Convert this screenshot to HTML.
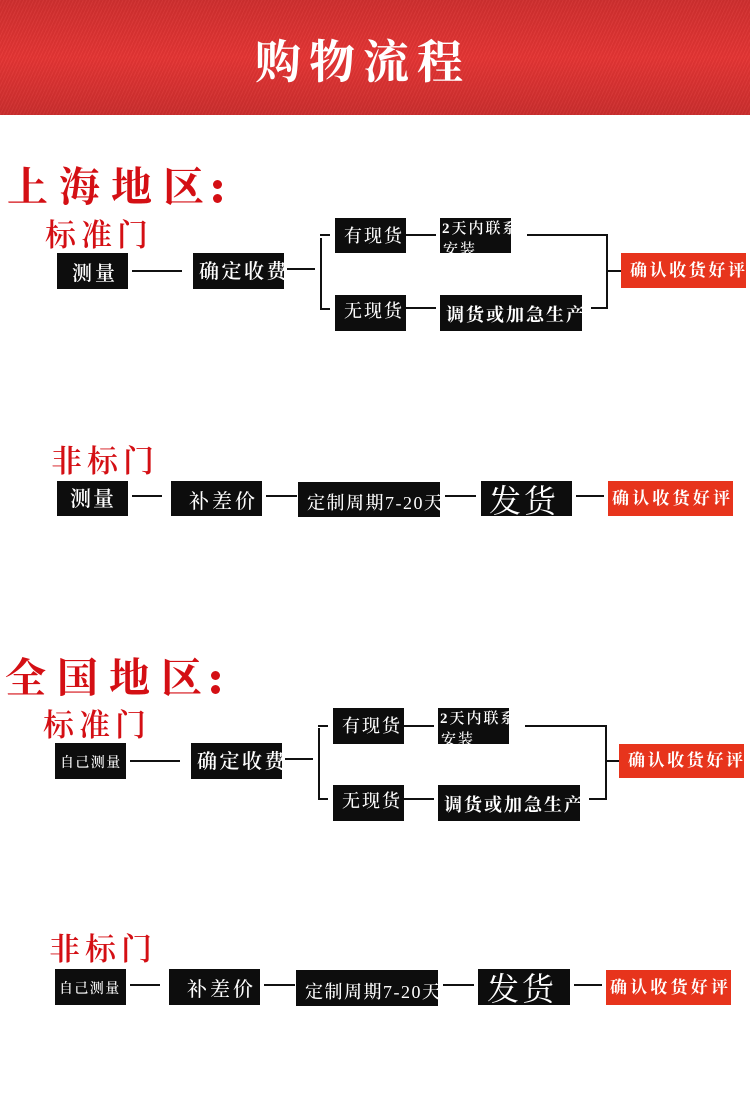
<!DOCTYPE html>
<html lang="zh"><head><meta charset="utf-8"><title>购物流程</title>
<style>
html,body{margin:0;padding:0;background:#fff}
#p{position:relative;width:750px;height:1110px;overflow:hidden;background:#fff;font-family:"Liberation Serif","Noto Serif CJK SC",serif}
#h{position:absolute;left:0;top:0;width:750px;height:115px;background:repeating-linear-gradient(115deg,rgba(255,255,255,.035) 0 1px,rgba(0,0,0,.035) 1px 3px),linear-gradient(#cf2f2f 0,#e53534 50%,#cb2e2e 100%)}
.t{position:absolute;white-space:nowrap;line-height:1}
.r{color:#d40f14;font-weight:700}
.b{position:absolute;background:#0d0d0d;color:#fff;overflow:hidden;font-weight:600}
.o{background:#e7341c}
.b span{position:absolute;white-space:nowrap;line-height:1}
.l{position:absolute;background:#111}
.d{position:absolute;width:9px;height:9px;border-radius:50%;background:#d40f14}
</style></head><body><div id="p">
<div id="h"></div>
<div class="t" style="left:255px;top:40px;font-size:46px;letter-spacing:8px;color:#fff;font-weight:700">购物流程</div>

<div class="t r" style="left:7px;top:167px;font-size:41px;letter-spacing:11px;font-weight:700">上海地区</div>
<div class="d" style="left:213px;top:180px"></div>
<div class="d" style="left:213px;top:194px"></div>
<div class="t r" style="left:45px;top:220px;font-size:31px;letter-spacing:5px;font-weight:600">标准门</div>

<div class="b" style="left:57px;top:253px;width:71px;height:36px"><span style="left:15px;top:11px;font-size:20px;letter-spacing:3px">测量</span></div>
<div class="l" style="left:132px;top:270px;width:50px;height:2px"></div>
<div class="b" style="left:193px;top:253px;width:91px;height:36px"><span style="left:6px;top:9px;font-size:20px;letter-spacing:2.5px">确定收费</span></div>
<div class="l" style="left:287px;top:268px;width:28px;height:2px"></div>
<div class="l" style="left:320px;top:234px;width:10px;height:2px"></div>
<div class="l" style="left:320px;top:238px;width:2px;height:71px"></div>
<div class="l" style="left:320px;top:308px;width:10px;height:2px"></div>
<div class="b" style="left:335px;top:218px;width:71px;height:35px"><span style="left:9px;top:9px;font-size:18px;letter-spacing:2px;font-weight:500">有现货</span></div>
<div class="b" style="left:335px;top:295px;width:71px;height:36px"><span style="left:9px;top:7px;font-size:18px;letter-spacing:2px;font-weight:500">无现货</span></div>
<div class="l" style="left:406px;top:234px;width:30px;height:2px"></div>
<div class="l" style="left:406px;top:307px;width:30px;height:2px"></div>
<div class="b" style="left:440px;top:218px;width:71px;height:35px"><span style="left:2px;top:4px;font-size:15px;letter-spacing:2px;font-weight:600">2天内联系</span><span style="left:3px;top:25px;font-size:15px;letter-spacing:2px;font-weight:500">安装</span></div>
<div class="b" style="left:440px;top:295px;width:142px;height:36px"><span style="left:6px;top:11px;font-size:18px;letter-spacing:2px;font-weight:700">调货或加急生产</span></div>
<div class="l" style="left:527px;top:234px;width:81px;height:2px"></div>
<div class="l" style="left:591px;top:307px;width:17px;height:2px"></div>
<div class="l" style="left:606px;top:234px;width:2px;height:75px"></div>
<div class="l" style="left:608px;top:270px;width:13px;height:2px"></div>
<div class="b o" style="left:621px;top:253px;width:125px;height:35px"><span style="left:9px;top:9px;font-size:17px;letter-spacing:2.6px;font-weight:700">确认收货好评</span></div>

<div class="t r" style="left:51px;top:446px;font-size:31px;letter-spacing:5px;font-weight:600">非标门</div>
<div class="b" style="left:57px;top:481px;width:71px;height:35px"><span style="left:13px;top:8px;font-size:21px;letter-spacing:2px">测量</span></div>
<div class="l" style="left:132px;top:495px;width:30px;height:2px"></div>
<div class="b" style="left:171px;top:481px;width:91px;height:35px"><span style="left:18px;top:11px;font-size:20px;letter-spacing:3px;font-weight:500">补差价</span></div>
<div class="l" style="left:266px;top:495px;width:31px;height:2px"></div>
<div class="b" style="left:298px;top:482px;width:142px;height:35px"><span style="left:9px;top:12px;font-size:18px;letter-spacing:1.5px;font-weight:500">定制周期7-20天</span></div>
<div class="l" style="left:445px;top:495px;width:31px;height:2px"></div>
<div class="b" style="left:481px;top:481px;width:91px;height:35px"><span style="left:8px;top:4px;font-size:32px;letter-spacing:3px;font-weight:400">发货</span></div>
<div class="l" style="left:576px;top:495px;width:28px;height:2px"></div>
<div class="b o" style="left:608px;top:481px;width:125px;height:35px"><span style="left:4px;top:9px;font-size:17px;letter-spacing:3.2px;font-weight:700">确认收货好评</span></div>

<div class="t r" style="left:5px;top:658px;font-size:41px;letter-spacing:11px;font-weight:700">全国地区</div>
<div class="d" style="left:211px;top:671px"></div>
<div class="d" style="left:211px;top:685px"></div>
<div class="t r" style="left:43px;top:710px;font-size:31px;letter-spacing:5px;font-weight:600">标准门</div>

<div class="b" style="left:55px;top:743px;width:71px;height:36px"><span style="left:5px;top:14px;font-size:14px;letter-spacing:1.4px;font-weight:500">自己测量</span></div>
<div class="l" style="left:130px;top:760px;width:50px;height:2px"></div>
<div class="b" style="left:191px;top:743px;width:91px;height:36px"><span style="left:6px;top:9px;font-size:20px;letter-spacing:2.5px">确定收费</span></div>
<div class="l" style="left:285px;top:758px;width:28px;height:2px"></div>
<div class="l" style="left:318px;top:725px;width:10px;height:2px"></div>
<div class="l" style="left:318px;top:728px;width:2px;height:71px"></div>
<div class="l" style="left:318px;top:798px;width:10px;height:2px"></div>
<div class="b" style="left:333px;top:708px;width:71px;height:36px"><span style="left:9px;top:9px;font-size:18px;letter-spacing:2px;font-weight:500">有现货</span></div>
<div class="b" style="left:333px;top:785px;width:71px;height:36px"><span style="left:9px;top:7px;font-size:18px;letter-spacing:2px;font-weight:500">无现货</span></div>
<div class="l" style="left:404px;top:725px;width:30px;height:2px"></div>
<div class="l" style="left:404px;top:798px;width:30px;height:2px"></div>
<div class="b" style="left:438px;top:708px;width:71px;height:36px"><span style="left:2px;top:4px;font-size:15px;letter-spacing:2px;font-weight:600">2天内联系</span><span style="left:3px;top:25px;font-size:15px;letter-spacing:2px;font-weight:500">安装</span></div>
<div class="b" style="left:438px;top:785px;width:142px;height:36px"><span style="left:6px;top:11px;font-size:18px;letter-spacing:2px;font-weight:700">调货或加急生产</span></div>
<div class="l" style="left:525px;top:725px;width:81px;height:2px"></div>
<div class="l" style="left:589px;top:798px;width:17px;height:2px"></div>
<div class="l" style="left:605px;top:725px;width:2px;height:75px"></div>
<div class="l" style="left:607px;top:760px;width:12px;height:2px"></div>
<div class="b o" style="left:619px;top:744px;width:125px;height:34px"><span style="left:9px;top:8px;font-size:17px;letter-spacing:2.6px;font-weight:700">确认收货好评</span></div>

<div class="t r" style="left:49px;top:934px;font-size:31px;letter-spacing:5px;font-weight:600">非标门</div>
<div class="b" style="left:55px;top:969px;width:71px;height:36px"><span style="left:4px;top:14px;font-size:14px;letter-spacing:1.4px;font-weight:500">自己测量</span></div>
<div class="l" style="left:130px;top:984px;width:30px;height:2px"></div>
<div class="b" style="left:169px;top:969px;width:91px;height:36px"><span style="left:18px;top:11px;font-size:20px;letter-spacing:3px;font-weight:500">补差价</span></div>
<div class="l" style="left:264px;top:984px;width:31px;height:2px"></div>
<div class="b" style="left:296px;top:970px;width:142px;height:36px"><span style="left:9px;top:13px;font-size:18px;letter-spacing:1.5px;font-weight:500">定制周期7-20天</span></div>
<div class="l" style="left:443px;top:984px;width:31px;height:2px"></div>
<div class="b" style="left:478px;top:969px;width:92px;height:36px"><span style="left:9px;top:4px;font-size:32px;letter-spacing:3px;font-weight:400">发货</span></div>
<div class="l" style="left:574px;top:984px;width:28px;height:2px"></div>
<div class="b o" style="left:606px;top:970px;width:125px;height:35px"><span style="left:4px;top:9px;font-size:17px;letter-spacing:3.2px;font-weight:700">确认收货好评</span></div>
</div></body></html>
